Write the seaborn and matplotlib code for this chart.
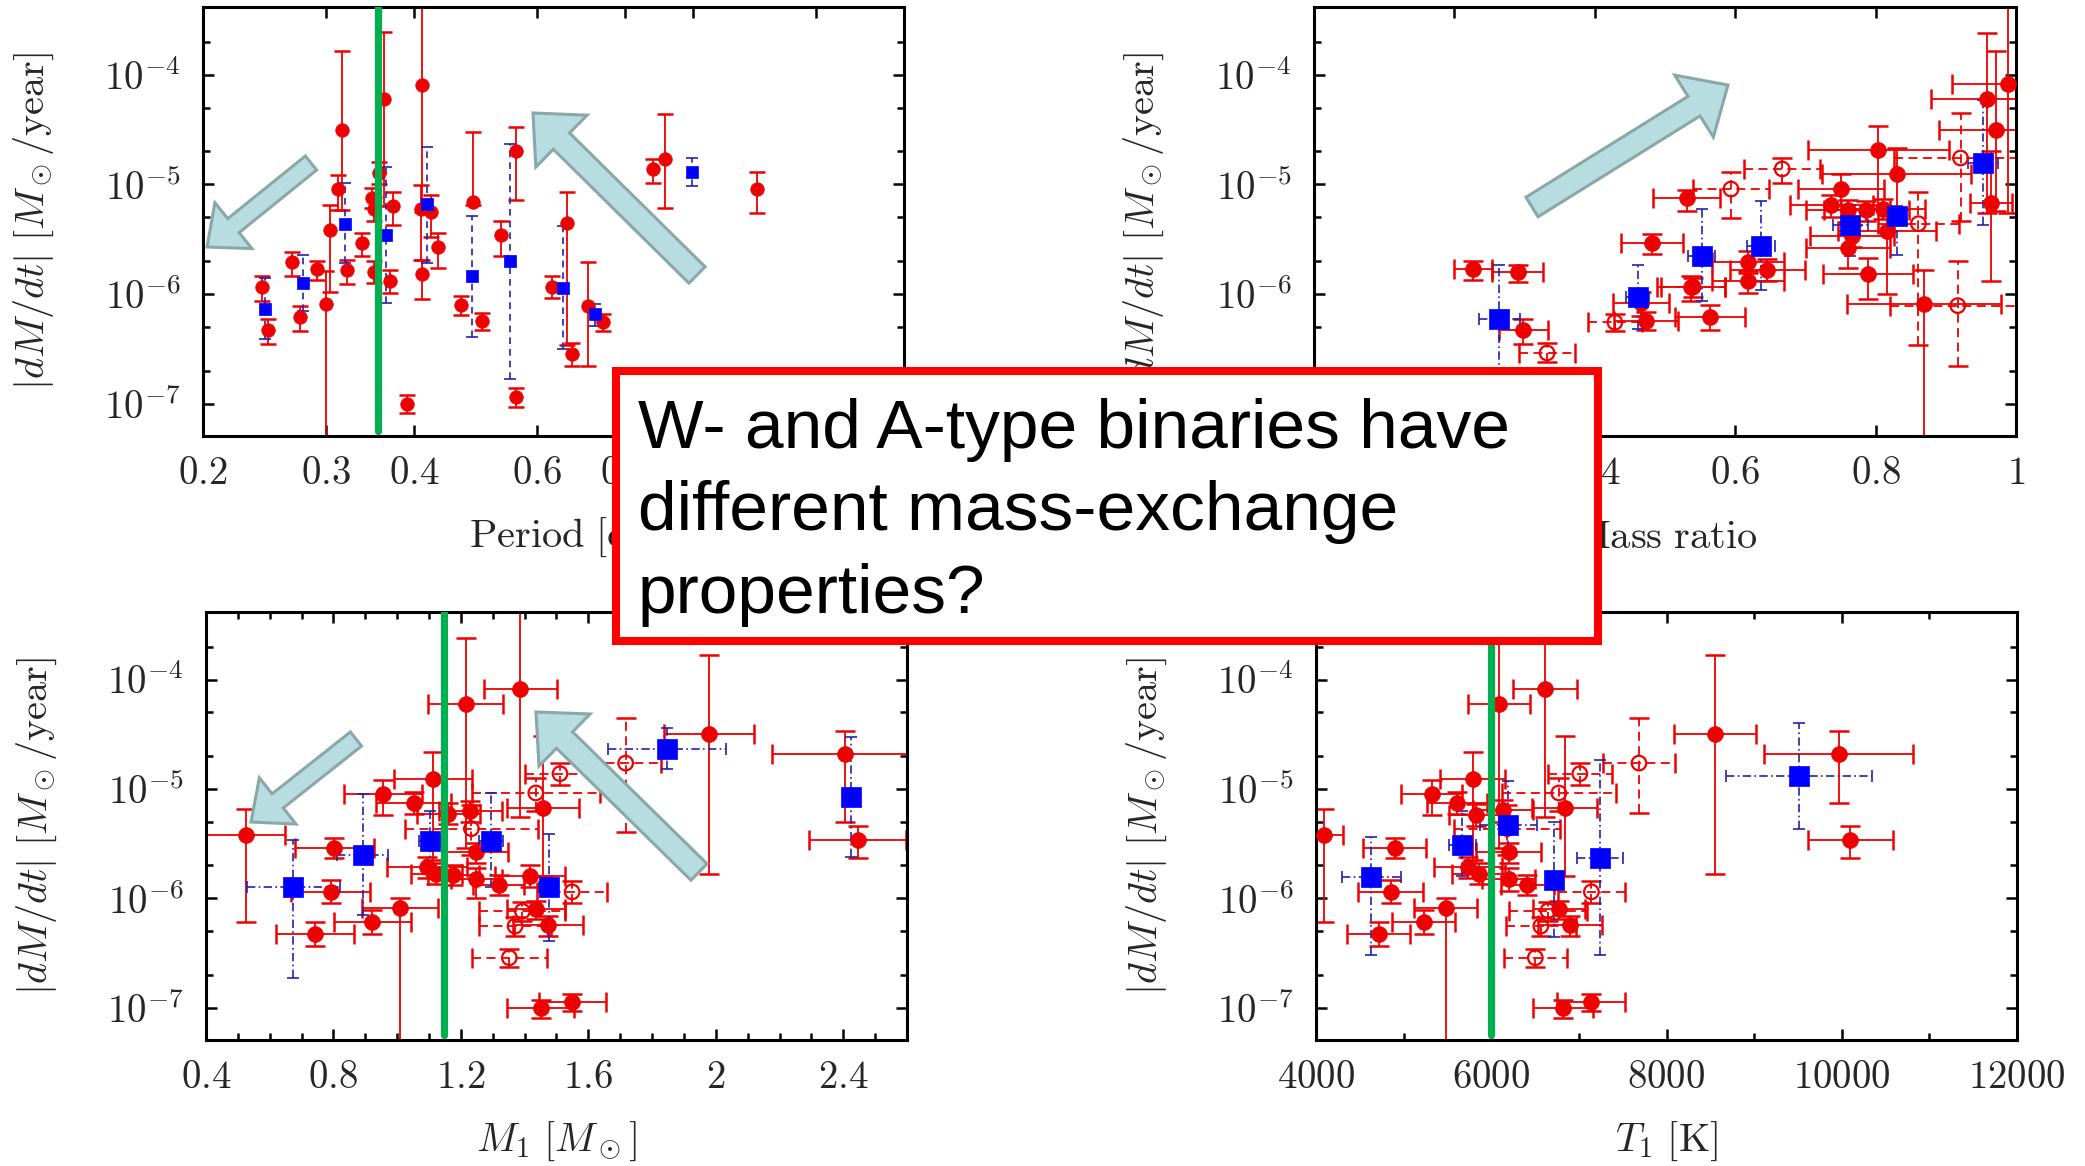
import numpy as np
import matplotlib
matplotlib.use("Agg")
import matplotlib.pyplot as plt
import seaborn as sns
from matplotlib.patches import FancyArrow, Rectangle
from matplotlib.ticker import FixedLocator, FixedFormatter, NullFormatter

# ---------------- data (log10 |dM/dt| in Msun/yr) ----------------
# Panel 1: Period [d]
p_red_x = [0.243, 0.248, 0.268, 0.275, 0.291, 0.300, 0.304, 0.312, 0.3155, 0.321, 0.337, 0.348, 0.351,
           0.351, 0.356, 0.363, 0.370, 0.373, 0.3915, 0.409, 0.410, 0.410, 0.423, 0.433, 0.467, 0.485,
           0.500, 0.532, 0.5585, 0.5585, 0.629, 0.661, 0.671, 0.708, 0.743, 0.878, 0.912, 1.233]
p_red_y = [-5.936, -6.331, -5.711, -6.213, -5.772, -6.088, -5.419, -5.043, -4.502, -5.784, -5.538, -5.128, -5.225,
           -5.802, -4.897, -4.222, -5.881, -5.195, -7.000, -5.225, -4.091, -5.818, -5.249, -5.574, -6.103, -5.164,
           -6.249, -5.465, -4.693, -6.942, -5.939, -5.353, -6.547, -6.112, -6.258, -4.860, -4.766, -5.040]
p_red_lo = [-6.067, -6.456, -5.833, -6.340, -5.869, -7.600, -5.985, -5.231, -5.231, -5.909, -5.650, -5.220, -5.330,
            -5.900, -5.000, -5.200, -5.990, -5.368, -7.085, -5.687, -5.250, -6.046, -5.480, -5.760, -6.190, -5.190,
            -6.330, -5.650, -5.140, -7.030, -6.040, -6.462, -6.653, -6.653, -6.340, -4.988, -5.216, -5.261]
p_red_hi = [-5.839, -6.228, -5.617, -6.112, -5.696, -5.793, -5.185, -4.912, -3.781, -5.687, -5.444, -5.030, -5.120,
            -5.700, -4.800, -3.614, -5.780, -5.073, -6.924, -5.003, -3.300, -5.687, -5.100, -5.440, -6.020, -4.523,
            -6.170, -5.330, -4.477, -6.860, -5.840, -5.073, -6.450, -5.708, -6.180, -4.769, -4.356, -4.890]
p_blue_x = [0.245, 0.278, 0.319, 0.365, 0.418, 0.484, 0.548, 0.652, 0.726, 0.998]
p_blue_y = [-6.137, -5.900, -5.359, -5.462, -5.182, -5.839, -5.702, -5.945, -6.185, -4.888]
p_blue_lo = [-6.410, -6.158, -5.717, -6.082, -5.717, -6.392, -6.775, -6.502, -6.289, -5.018]
p_blue_hi = [-5.854, -5.641, -4.988, -4.845, -4.663, -5.286, -4.629, -5.377, -6.088, -4.763]
p_split = 0.355

# Panel 2: Mass ratio
q_red_x = [0.226, 0.290, 0.298, 0.481, 0.473, 0.466, 0.531, 0.537, 0.564, 0.618, 0.618, 0.646, 0.751, 0.737,
           0.761, 0.787, 0.811, 0.766, 0.761, 0.789, 0.804, 0.830, 0.816, 0.869, 0.959, 0.971, 0.989, 0.964]
q_red_xe = [0.027, 0.036, 0.035, 0.044, 0.045, 0.040, 0.048, 0.049, 0.050, 0.051, 0.051, 0.054, 0.061, 0.059,
            0.060, 0.060, 0.060, 0.060, 0.060, 0.064, 0.100, 0.106, 0.070, 0.110, 0.080, 0.080, 0.080, 0.030]
q_red_y = [-5.772, -5.802, -6.325, -5.535, -6.243, -6.082, -5.125, -5.936, -6.210, -5.708, -5.884, -5.778, -5.043,
           -5.191, -5.237, -5.237, -5.222, -5.468, -5.581, -5.815, -4.684, -4.906, -5.422, -6.091, -4.219, -4.502,
           -4.085, -5.170]
q_red_lo = [-5.869, -5.891, -6.456, -5.635, -6.330, -6.200, -5.240, -6.067, -6.330, -5.810, -5.990, -5.880, -5.190,
            -5.300, -5.340, -5.330, -5.320, -5.570, -5.760, -6.046, -5.190, -5.220, -6.000, -8.000, -5.260, -5.240,
            -5.260, -5.880]
q_red_hi = [-5.696, -5.736, -6.228, -5.450, -6.160, -5.980, -5.050, -5.833, -6.100, -5.610, -5.790, -5.680, -4.910,
            -5.100, -5.140, -5.150, -5.130, -5.370, -5.450, -5.672, -4.471, -4.670, -5.260, -5.780, -3.620, -3.780,
            -3.300, -4.700]
q_open_x = [0.332, 0.4286, 0.540, 0.594, 0.667, 0.921, 0.861, 0.917]
q_open_xe = [0.040, 0.038, 0.045, 0.054, 0.054, 0.095, 0.058, 0.096]
q_open_y = [-6.538, -6.258, -5.936, -5.043, -4.860, -4.760, -5.359, -6.106]
q_open_lo = [-6.620, -6.340, -6.030, -5.310, -4.990, -5.337, -6.468, -6.660]
q_open_hi = [-6.450, -6.180, -5.850, -4.890, -4.760, -4.350, -5.073, -5.702]
q_blue_x = [0.264, 0.461, 0.552, 0.637, 0.764, 0.831, 0.953]
q_blue_xe = [0.029, 0.016, 0.019, 0.020, 0.025, 0.013, 0.021]
q_blue_y = [-6.228, -6.030, -5.650, -5.559, -5.368, -5.286, -4.805]
q_blue_lo = [-6.900, -6.320, -6.067, -5.960, -5.650, -5.640, -5.370]
q_blue_hi = [-5.733, -5.740, -5.228, -5.150, -5.190, -5.200, -4.230]

# Panel 3: M1 [Msun]
m_red_x = [0.525, 0.743, 0.791, 0.803, 0.922, 0.956, 1.009, 1.052, 1.113, 1.093, 1.123, 1.176, 1.215, 1.161,
           1.230, 1.248, 1.248, 1.318, 1.387, 1.458, 1.416, 1.436, 1.473, 1.450, 1.550, 1.979, 2.405, 2.445]
m_red_xe = [0.124, 0.123, 0.123, 0.124, 0.120, 0.122, 0.118, 0.118, 0.123, 0.126, 0.080, 0.080, 0.118, 0.100,
            0.100, 0.100, 0.080, 0.080, 0.116, 0.114, 0.110, 0.090, 0.110, 0.104, 0.105, 0.141, 0.230, 0.152]
m_red_y = [-5.424, -6.327, -5.941, -5.536, -6.215, -5.044, -6.093, -5.129, -4.913, -5.713, -5.774, -5.789, -4.222,
           -5.226, -5.200, -5.580, -5.820, -5.880, -4.085, -5.171, -5.798, -6.102, -6.245, -7.006, -6.945, -4.496,
           -4.684, -5.463]
m_red_lo = [-6.221, -6.440, -6.040, -5.630, -6.330, -5.240, -8.000, -5.230, -5.650, -5.810, -5.870, -5.880, -5.540,
            -5.320, -5.300, -5.680, -6.000, -5.970, -5.256, -5.800, -5.900, -6.190, -6.340, -7.090, -7.030, -5.779,
            -5.300, -5.630]
m_red_hi = [-5.186, -6.220, -5.830, -5.450, -6.110, -4.920, -6.000, -5.030, -4.664, -5.620, -5.680, -5.700, -3.620,
            -5.130, -5.110, -5.490, -5.720, -5.790, -3.300, -4.520, -5.700, -6.020, -6.160, -6.930, -6.870, -3.775,
            -4.470, -5.340]
m_open_x = [1.717, 1.511, 1.435, 1.233, 1.549, 1.393, 1.370, 1.352]
m_open_xe = [0.110, 0.110, 0.200, 0.210, 0.110, 0.135, 0.113, 0.117]
m_open_y = [-4.764, -4.861, -5.037, -5.363, -5.941, -6.118, -6.254, -6.543]
m_open_lo = [-5.390, -4.960, -5.200, -5.600, -6.040, -6.210, -6.340, -6.630]
m_open_hi = [-4.350, -4.760, -4.900, -5.150, -5.840, -6.030, -6.170, -6.460]
m_blue_x = [0.674, 0.892, 1.103, 1.295, 1.476, 1.846, 2.425]
m_blue_xe = [0.145, 0.080, 0.034, 0.037, 0.030, 0.185, 0.020]
m_blue_y = [-5.895, -5.600, -5.476, -5.476, -5.895, -4.633, -5.074]
m_blue_lo = [-6.730, -6.150, -5.730, -5.900, -6.390, -4.820, -5.620]
m_blue_hi = [-5.470, -5.050, -5.200, -5.040, -5.410, -4.440, -4.530]
m_split = 1.146

# Panel 4: T1 [K]
t_red_x = [4086, 4714, 4851, 4897, 5229, 5320, 5480, 5606, 5789, 5731, 5823, 5857, 6086, 6131, 6200, 6200, 6411,
           6611, 6840, 6771, 6897, 6823, 7137, 8554, 9966, 10097]
t_red_xe = [225, 357, 369, 363, 357, 349, 357, 343, 371, 386, 300, 300, 354, 343, 371, 300, 300, 363, 371, 300,
            366, 343, 386, 471, 849, 486]
t_red_y = [-5.424, -6.327, -5.941, -5.536, -6.215, -5.044, -6.093, -5.129, -4.913, -5.713, -5.241, -5.774, -4.222,
           -5.196, -5.576, -5.819, -5.880, -4.085, -5.171, -6.102, -6.245, -7.006, -6.945, -4.502, -4.684, -5.463]
t_red_lo = [-6.221, -6.440, -6.040, -5.630, -6.330, -5.240, -8.000, -5.230, -5.650, -5.810, -5.340, -5.870, -5.540,
            -5.300, -5.680, -5.930, -5.970, -5.256, -5.800, -6.190, -6.340, -7.090, -7.030, -5.779, -5.130, -5.630]
t_red_hi = [-5.186, -6.220, -5.830, -5.450, -6.110, -4.920, -6.000, -5.030, -4.664, -5.620, -5.140, -5.680, -3.300,
            -5.100, -5.490, -5.720, -5.790, -3.300, -4.520, -6.020, -6.160, -6.930, -6.870, -3.775, -4.470, -5.340]
t_open_x = [7686, 7011, 6771, 6180, 7143, 6646, 6566, 6503]
t_open_xe = [409, 363, 649, 600, 386, 443, 400, 357]
t_open_y = [-4.764, -4.861, -5.037, -5.363, -5.941, -6.114, -6.254, -6.543]
t_open_lo = [-5.220, -4.960, -5.200, -5.600, -6.040, -6.210, -6.340, -6.630]
t_open_hi = [-4.350, -4.760, -4.900, -5.150, -5.840, -6.030, -6.170, -6.460]
t_blue_x = [4629, 5669, 6194, 6714, 7240, 9509]
t_blue_xe = [337, 154, 323, 71, 266, 834]
t_blue_y = [-5.804, -5.515, -5.333, -5.835, -5.628, -4.882]
t_blue_lo = [-6.520, -5.800, -5.550, -6.350, -6.520, -5.370]
t_blue_hi = [-5.440, -5.200, -4.930, -5.300, -4.740, -4.400]
t_split = 6000

# tick labels
p_ticks = [0.2, 0.3, 0.4, 0.6, 0.8, 1.0, 1.5, 2.0]
p_ticklabels = ["0.2", "0.3", "0.4", "0.6", "0.8", "1", "1.5", "2"]
q_ticks = [0, 0.2, 0.4, 0.6, 0.8, 1.0]
q_ticklabels = ["0", "0.2", "0.4", "0.6", "0.8", "1"]
m_ticks = [0.4, 0.8, 1.2, 1.6, 2.0, 2.4]
m_ticklabels = ["0.4", "0.8", "1.2", "1.6", "2", "2.4"]
t_ticks = [4000, 6000, 8000, 10000, 12000]
t_ticklabels = ["4000", "6000", "8000", "10000", "12000"]
y_ticks = [1e-7, 1e-6, 1e-5, 1e-4]
y_ticklabels = [r"$10^{-7}$", r"$10^{-6}$", r"$10^{-5}$", r"$10^{-4}$"]

title_lines = ["W- and A-type binaries have", "different mass-exchange", "properties?"]

# ---------------- style ----------------
sns.set_theme(style="ticks")
plt.rcParams["font.family"] = ["DejaVu Serif"]
plt.rcParams["mathtext.fontset"] = "cm"

RED = "#ee0000"
BLUE = "#0000ff"
EBLUE = "#2222b0"
GREEN = "#00b050"
FS = 28

W, H = 2085, 1166
fig = plt.figure(figsize=(W / 100, H / 100), dpi=100)
fig.patch.set_facecolor("white")


def frac(l, t, r, b):
    return [l / W, (H - b) / H, (r - l) / W, (b - t) / H]


axes = [fig.add_axes(frac(203, 7, 904, 436)),
        fig.add_axes(frac(1314, 7, 2016, 436)),
        fig.add_axes(frac(206, 612, 907, 1040)),
        fig.add_axes(frac(1316, 612, 2017, 1040))]


def draw(ax, x, y, lo, hi, xe=None, kind="red", msize=120, cap=7, elw=1.3, ls="-"):
    x = np.asarray(x, float)
    Y = 10 ** np.asarray(y)
    yerr = [Y - 10 ** np.asarray(lo), 10 ** np.asarray(hi) - Y]
    ecol = RED if kind in ("red", "open") else EBLUE
    eb = ax.errorbar(x, Y, yerr=yerr, xerr=xe, fmt="none", ecolor=ecol, elinewidth=elw,
                     capsize=cap, capthick=1.8 if kind != "blue" else 1.2, zorder=2)
    for lc in eb[2]:
        lc.set_linestyle(ls)
    if kind == "red":
        sns.scatterplot(x=x, y=Y, ax=ax, marker="o", s=msize, color=RED, edgecolor=RED,
                        linewidth=0.5, zorder=3, legend=False)
    elif kind == "open":
        sns.scatterplot(x=x, y=Y, ax=ax, marker="o", s=msize, facecolor="none", edgecolor=RED,
                        linewidth=1.6, zorder=3, legend=False)
    else:
        sns.scatterplot(x=x, y=Y, ax=ax, marker="s", s=msize, color=BLUE, edgecolor=BLUE,
                        linewidth=0.5, zorder=4, legend=False)


# Panel 1
ax = axes[0]
draw(ax, p_red_x, p_red_y, p_red_lo, p_red_hi, kind="red", msize=95, cap=6)
draw(ax, p_blue_x, p_blue_y, p_blue_lo, p_blue_hi, kind="blue", msize=85, cap=4, elw=1.2, ls=(0, (4, 3)))
ax.set_xscale("log")
ax.set_xlim(0.2, 2.0)
ax.axvline(p_split, ymin=0.012, ymax=1, color=GREEN, lw=5.2, zorder=6)

# Panel 2
ax = axes[1]
draw(ax, q_red_x, q_red_y, q_red_lo, q_red_hi, xe=q_red_xe, kind="red", msize=130)
draw(ax, q_open_x, q_open_y, q_open_lo, q_open_hi, xe=q_open_xe, kind="open", msize=110, ls=(0, (5, 3)))
draw(ax, q_blue_x, q_blue_y, q_blue_lo, q_blue_hi, xe=q_blue_xe, kind="blue", msize=200, cap=4, elw=1.2,
     ls=(0, (5, 2, 1, 2)))
ax.set_xlim(0, 1)

# Panel 3
ax = axes[2]
draw(ax, m_red_x, m_red_y, m_red_lo, m_red_hi, xe=m_red_xe, kind="red", msize=130)
draw(ax, m_open_x, m_open_y, m_open_lo, m_open_hi, xe=m_open_xe, kind="open", msize=110, ls=(0, (5, 3)))
draw(ax, m_blue_x, m_blue_y, m_blue_lo, m_blue_hi, xe=m_blue_xe, kind="blue", msize=190, cap=4, elw=1.2,
     ls=(0, (5, 2, 1, 2)))
ax.set_xlim(0.4, 2.6)
ax.axvline(m_split, ymin=0.012, ymax=1, color=GREEN, lw=5.2, zorder=6)

# Panel 4
ax = axes[3]
draw(ax, t_red_x, t_red_y, t_red_lo, t_red_hi, xe=t_red_xe, kind="red", msize=130)
draw(ax, t_open_x, t_open_y, t_open_lo, t_open_hi, xe=t_open_xe, kind="open", msize=110, ls=(0, (5, 3)))
draw(ax, t_blue_x, t_blue_y, t_blue_lo, t_blue_hi, xe=t_blue_xe, kind="blue", msize=190, cap=4, elw=1.2,
     ls=(0, (5, 2, 1, 2)))
ax.set_xlim(4000, 12000)
ax.axvline(t_split, ymin=0.012, ymax=1, color=GREEN, lw=5.2, zorder=6)

xlabels = [r"$\mathrm{Period\ [d]}$", r"$\mathrm{Mass\ ratio}$", r"$M_1\ [M_\odot]$", r"$T_1\ \mathrm{[K]}$"]
xticks = [(p_ticks, p_ticklabels), (q_ticks, q_ticklabels), (m_ticks, m_ticklabels), (t_ticks, t_ticklabels)]
minors = [None, None, np.arange(0.4, 2.61, 0.1), np.arange(4000, 12001, 1000)]

for i, ax in enumerate(axes):
    ax.set_yscale("log")
    ax.set_ylim(10 ** -7.295, 10 ** -3.383)
    ax.yaxis.set_major_locator(FixedLocator(y_ticks))
    ax.yaxis.set_major_formatter(FixedFormatter(y_ticklabels))
    ymin = [m * 10.0 ** e for e in range(-8, -2) for m in (2, 5)]
    ax.yaxis.set_minor_locator(FixedLocator(ymin))
    ax.yaxis.set_minor_formatter(NullFormatter())
    tk, tl = xticks[i]
    ax.xaxis.set_major_locator(FixedLocator(tk))
    ax.xaxis.set_major_formatter(FixedFormatter(["$%s$" % s for s in tl]))
    if minors[i] is not None:
        ax.xaxis.set_minor_locator(FixedLocator(minors[i]))
    else:
        ax.xaxis.set_minor_locator(FixedLocator([]))
    ax.xaxis.set_minor_formatter(NullFormatter())
    ax.tick_params(which="both", direction="in", top=True, right=True, width=1.8, color="black")
    ax.tick_params(which="major", length=8)
    ax.tick_params(which="minor", length=5)
    ax.tick_params(axis="x", which="major", pad=14, labelsize=FS)
    ax.tick_params(axis="y", which="major", pad=16, labelsize=FS)
    for s in ax.spines.values():
        s.set_linewidth(2.2)
        s.set_color("black")
    ax.set_facecolor("white")
    ax.set_xlabel(xlabels[i], fontsize=FS + 1)
    ax.set_ylabel(r"$|dM/dt|\ [M_\odot/\mathrm{year}]$", fontsize=FS + 1)
    ax.xaxis.set_label_coords(0.5, -0.237)
    ax.xaxis.label.set_va("center")
    ax.yaxis.set_label_coords(-0.242, 0.5)
    ax.yaxis.label.set_va("center")
    ax.grid(False)

# ---------------- overlay: arrows and the question box ----------------
ov = fig.add_axes([0, 0, 1, 1], zorder=20)
ov.set_xlim(0, W)
ov.set_ylim(H, 0)
ov.axis("off")
ov.patch.set_alpha(0)

AFILL = "#b8dde0"
AEDGE = "#8aa8aa"


def arrow(tail, tip, width, hw, hl):
    ov.add_patch(FancyArrow(tail[0], tail[1], tip[0] - tail[0], tip[1] - tail[1], width=width,
                            head_width=hw, head_length=hl, length_includes_head=True,
                            fc=AFILL, ec=AEDGE, lw=2.2, zorder=21))


arrow((311, 163), (207, 247), 18, 59, 34)
arrow((697, 275), (533, 113), 23, 73, 40)
arrow((1532, 207), (1728, 85), 23, 73, 40)
arrow((356, 739), (251, 822), 18, 59, 34)
arrow((699, 872), (536, 712), 23, 73, 40)

ov.add_patch(Rectangle((616, 371), 982, 270, fc="white", ec="#ff0000", lw=5.8, zorder=22))
for k, line in enumerate(title_lines):
    ov.text(638, 448 + 82.5 * k, line, fontsize=50, family=["Liberation Sans", "DejaVu Sans"],
            color="black", ha="left", va="baseline", zorder=23)

fig.savefig("out.png", dpi=100, facecolor="white")
